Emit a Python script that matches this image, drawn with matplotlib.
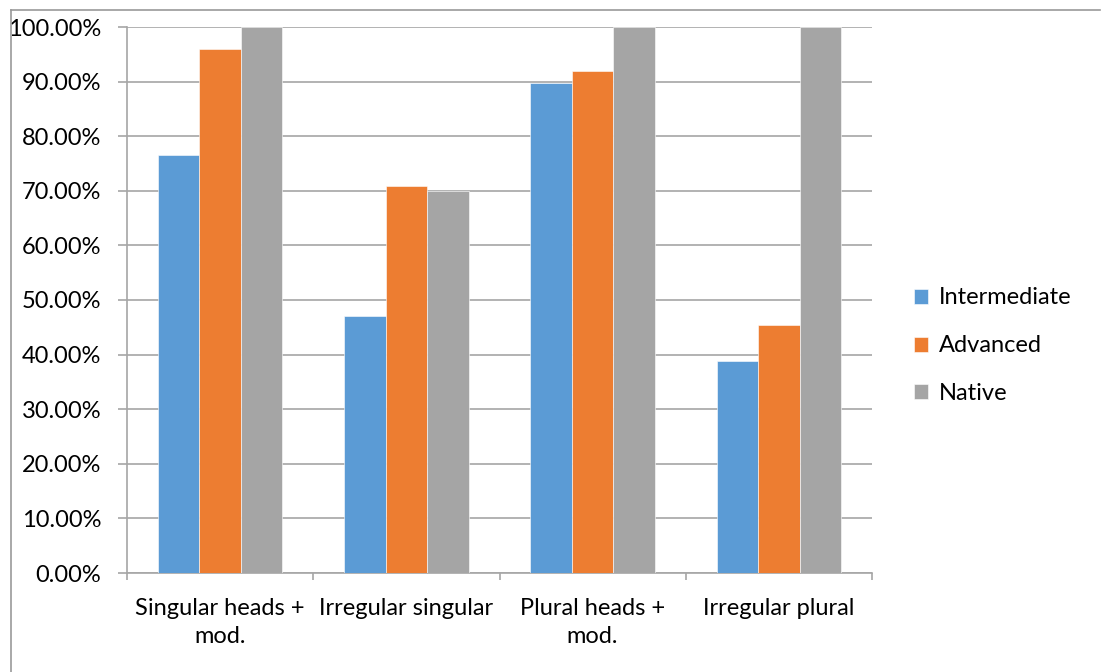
import numpy as np
import matplotlib; matplotlib.use('Agg')
import matplotlib.pyplot as plt
from matplotlib.lines import Line2D
from matplotlib.ticker import FuncFormatter, MultipleLocator

plt.rcParams['font.family'] = ['Lato', 'DejaVu Sans']

categories = ['Singular heads +\nmod.', 'Irregular singular', 'Plural heads +\nmod.', 'Irregular plural']
series = ['Intermediate', 'Advanced', 'Native']
intermediate = [76.5, 47.1, 89.7, 38.9]
advanced = [95.9, 70.8, 92.0, 45.5]
native = [100.0, 70.0, 100.0, 100.0]
COLORS = ['#5B9BD5', '#ED7D31', '#A5A5A5']

fig = plt.figure(figsize=(11.01, 6.72), dpi=100)
ax = fig.add_axes([127/1101, 99/672, 745/1101, 546/672])

x = np.arange(len(categories))
w = 0.2225
for i, (vals, c, lab) in enumerate(zip([intermediate, advanced, native], COLORS, series)):
    ax.bar(x + (i - 1) * w, vals, width=w, color=c, label=lab,
           edgecolor='white', linewidth=0.4, zorder=3)

grid_c = '#A6A6A6'
fs = 17
ax.set_xlim(-0.5, len(categories) - 0.5)
ax.set_ylim(0, 100)
ax.yaxis.set_major_locator(MultipleLocator(10))
ax.yaxis.set_major_formatter(FuncFormatter(lambda v, p: f'{v:.2f}%'))
ax.grid(axis='y', color=grid_c, linewidth=1.2, zorder=0)
for s in ['top', 'right']:
    ax.spines[s].set_visible(False)
for s in ['left', 'bottom']:
    ax.spines[s].set_color(grid_c)
    ax.spines[s].set_linewidth(1.2)

ax.set_xticks(x)
ax.set_xticklabels(categories, fontsize=fs, linespacing=1.4)
ax.tick_params(axis='x', length=0, pad=18)
ax.set_xticks(np.arange(len(categories) + 1) - 0.5, minor=True)
ax.tick_params(axis='x', which='minor', length=5, color=grid_c, width=1.2)
ax.tick_params(axis='y', labelsize=fs, length=6.5, color=grid_c, width=1.2, pad=12)

leg = ax.legend(loc='center left', bbox_to_anchor=(1.0275, 0.416), frameon=False,
                fontsize=fs, handlelength=0.6, handleheight=0.6,
                handletextpad=0.45, labelspacing=1.14)

# chart outer border (partially visible)
fig.add_artist(Line2D([11/1101, 1100/1101], [1 - 10/672, 1 - 10/672],
                      color='#999999', linewidth=1.2, transform=fig.transFigure))
fig.add_artist(Line2D([11/1101, 11/1101], [0, 1 - 10/672],
                      color='#999999', linewidth=1.2, transform=fig.transFigure))

plt.savefig('out.png', dpi=100)
plt.close()
